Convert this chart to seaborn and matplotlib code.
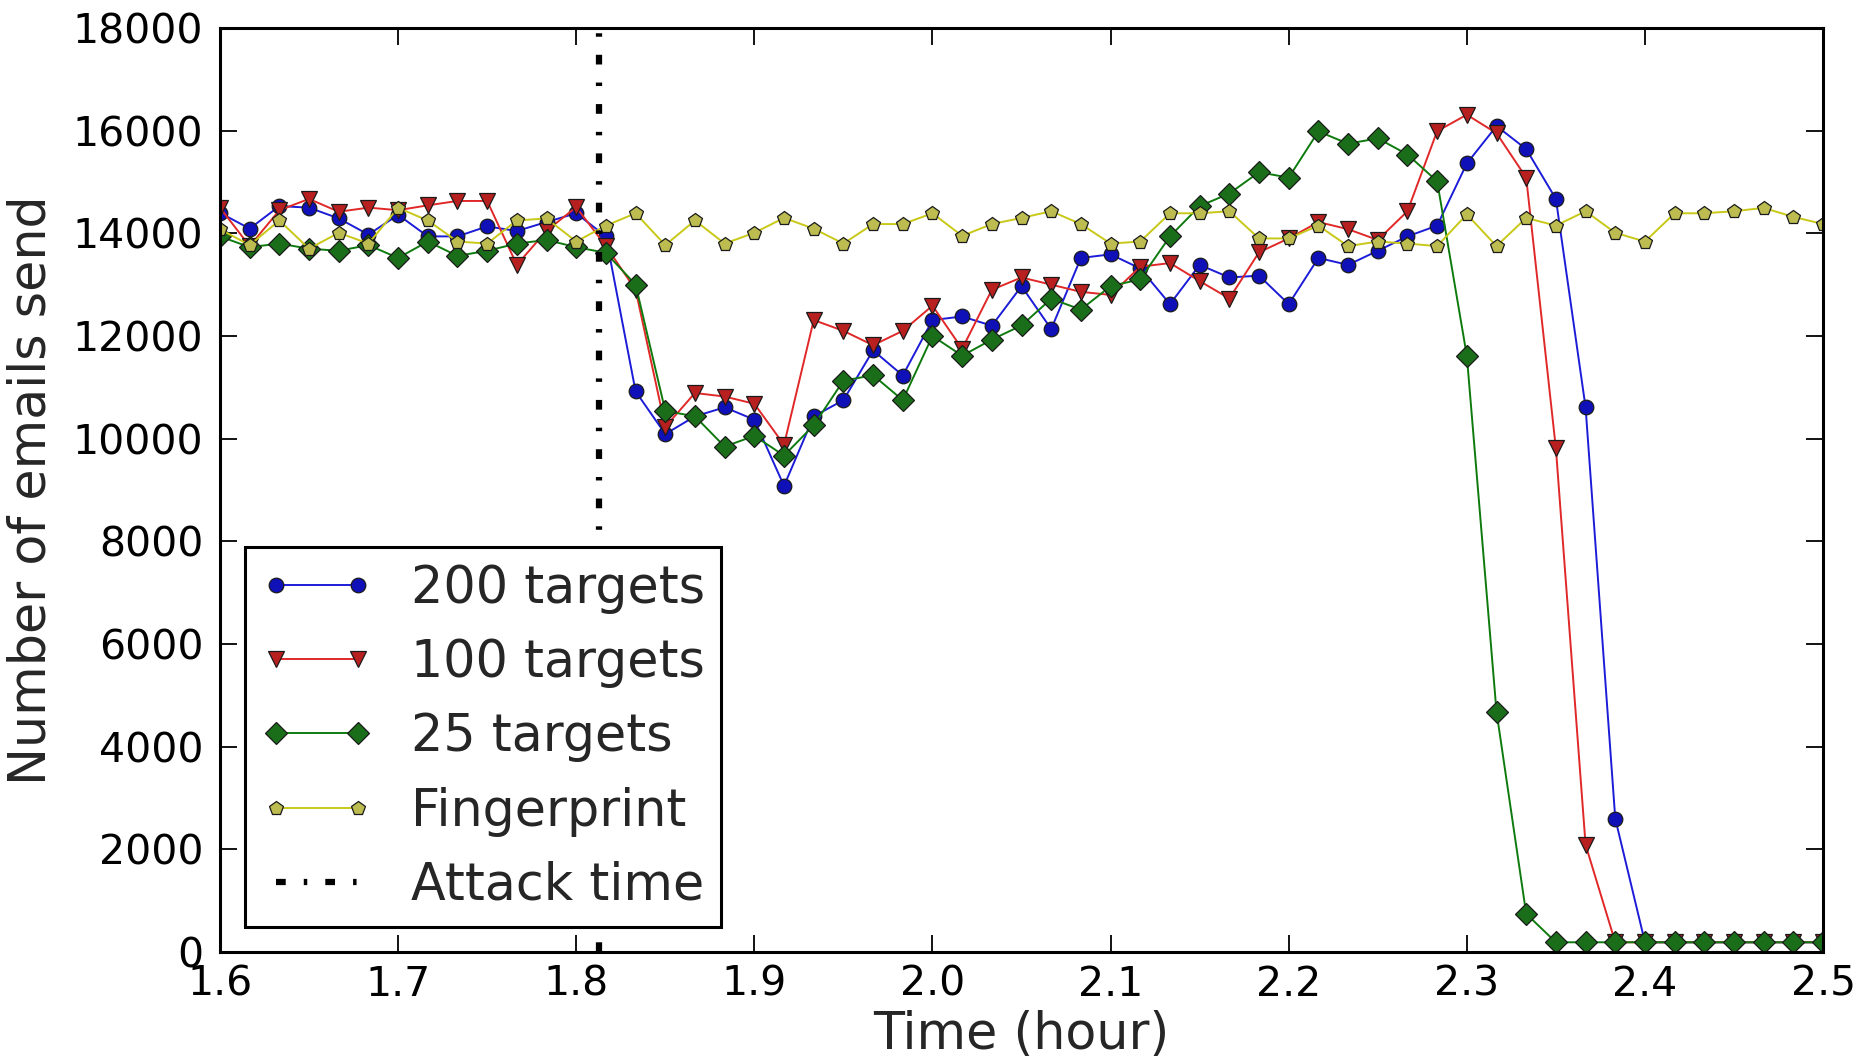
import numpy as np
import pandas as pd
import matplotlib
matplotlib.use("Agg")
import matplotlib.pyplot as plt
import seaborn as sns

# time axis: one sample per minute from 1.6 h to 2.5 h
minutes = np.arange(55)
time_h = 1.6 + minutes / 60.0

t200 = [14400, 14090, 14530, 14500, 14290, 13975, 14360, 13940, 13940, 14135,
        14045, 14220, 14390, 13940, 10920, 10090, 10435, 10610, 10370, 9080,
        10435, 10750, 11720, 11230, 12310, 12380, 12200, 12970, 12135, 13520,
        13590, 13315, 12620, 13385, 13140, 13175, 12620, 13520, 13385, 13660,
        13940, 14150, 15360, 16090, 15640, 14670, 10610, 2600, 190, 190,
        190, 190, 190, 190, 190]
t100 = [14500, 13750, 14450, 14670, 14420, 14500, 14450, 14545, 14630, 14630,
        13385, 14050, 14510, 13750, 12900, 10230, 10890, 10820, 10680, 9880,
        12310, 12100, 11820, 12100, 12590, 11750, 12900, 13140, 13000, 12860,
        12800, 13350, 13420, 13070, 12730, 13630, 13900, 14220, 14080, 13870,
        14430, 15990, 16310, 15950, 15085, 9810, 2090, 190, 190, 190,
        190, 190, 190, 190, 190]
t25 = [13940, 13730, 13800, 13700, 13660, 13770, 13520, 13840, 13560, 13660,
       13800, 13870, 13730, 13620, 13000, 10540, 10435, 9845, 10055, 9670,
       10260, 11130, 11235, 10750, 12000, 11615, 11930, 12205, 12725, 12515,
       12970, 13105, 13940, 14530, 14775, 15190, 15085, 15985, 15745, 15850,
       15535, 15015, 11615, 4680, 745, 190, 190, 190, 190, 190,
       190, 190, 190, 190, 190]
fingerprint = [14080, 13770, 14250, 13700, 14010, 13800, 14495, 14250, 13840, 13800,
               14250, 14290, 13840, 14150, 14390, 13770, 14250, 13800, 14010, 14300,
               14090, 13800, 14180, 14180, 14390, 13950, 14180, 14300, 14430, 14180,
               13800, 13840, 14390, 14390, 14430, 13900, 13900, 14150, 13750, 13840,
               13800, 13750, 14370, 13750, 14300, 14150, 14430, 14010, 13840, 14390,
               14390, 14430, 14495, 14320, 14180]
attack_time = 1.813

series_labels = ["200 targets", "100 targets", "25 targets", "Fingerprint"]
series_values = [t200, t100, t25, fingerprint]
line_colors = ["#1c1cd8", "#e02828", "#0e7a0e", "#c8c818"]
face_colors = ["#1010b8", "#b82020", "#1a6e1a", "#bcbc50"]
series_markers = ["o", "v", "D", "p"]
series_msize = [10.5, 12, 11, 10.5]

xticks = [1.6, 1.7, 1.8, 1.9, 2.0, 2.1, 2.2, 2.3, 2.4, 2.5]
yticks = list(range(0, 18001, 2000))

sns.set_style("white")
plt.rcParams["font.family"] = ["DejaVu Sans"]
plt.rcParams["lines.scale_dashes"] = False

fig = plt.figure(figsize=(18.58, 10.59), dpi=100)
ax = fig.add_axes([0.1184, 0.1010, 0.8628, 0.8726])

for lab, vals, lc, fc, mk, ms in zip(series_labels, series_values, line_colors,
                                     face_colors, series_markers, series_msize):
    df = pd.DataFrame({"time": time_h, "value": vals})
    sns.lineplot(data=df, x="time", y="value", ax=ax, color=lc, marker=mk,
                 markersize=ms, markeredgecolor="#1a1a1a", markeredgewidth=0.9,
                 markerfacecolor=fc, linewidth=1.4, label=lab, legend=False)

ax.axvline(attack_time, color="black", linewidth=4.5,
           dashes=(7, 13, 2.5, 13), label="Attack time")

ax.set_xlim(1.6, 2.5)
ax.set_ylim(0, 18000)
ax.set_xticks(xticks)
ax.set_xticklabels([f"{v:.1f}" for v in xticks])
ax.set_yticks(yticks)
ax.set_yticklabels([str(v) for v in yticks])
ax.tick_params(axis="both", which="major", direction="in", length=12, width=1.3,
               labelsize=29.5, top=True, right=True, bottom=True, left=True,
               colors="black")
ax.tick_params(axis="y", pad=12)
ax.tick_params(axis="x", pad=9)
for sp in ax.spines.values():
    sp.set_color("black")
    sp.set_linewidth(2.2)

ax.set_xlabel("Time (hour)", fontsize=36.5, labelpad=4)
ax.set_ylabel("Number of emails send", fontsize=36.5, labelpad=12)

leg = ax.legend(loc="lower left", bbox_to_anchor=(0.0156, 0.027), borderaxespad=0,
                fontsize=36.5, numpoints=2, handlelength=2.2, handletextpad=0.75,
                labelspacing=0.48, borderpad=0.32, fancybox=False, framealpha=1,
                edgecolor="black")
leg.get_frame().set_linewidth(2.2)

fig.savefig("out.png", dpi=100, facecolor="white")
